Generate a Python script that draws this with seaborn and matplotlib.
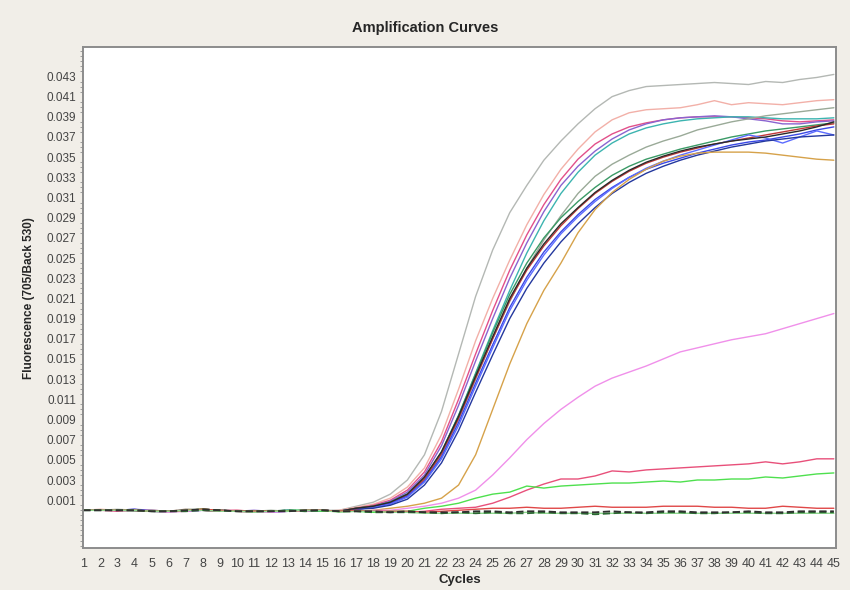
import pandas as pd
import matplotlib
matplotlib.use("Agg")
import matplotlib.pyplot as plt
from matplotlib.ticker import MultipleLocator, FormatStrFormatter
import numpy as np
import seaborn as sns

# Cycles 1..45
cycles = list(range(1, 46))

# Fluorescence values, in units of 1e-4
gray = [0, 0, 1, 0, -1, -2, 0, 1, 0, -1, -1, -1, 0, -1, 0, 0,
        4, 8, 16, 30, 55, 98, 155, 212, 258, 295, 322, 347, 366, 383,
        398, 410, 416, 420, 421, 422, 423, 424, 423, 422, 425, 424, 427, 429, 432]
salmon = [0, 1, 0, 0, -1, -1, 1, 0, -1, 0, -1, -2, -1, 0, -1, 0,
          3, 6, 12, 23, 42, 75, 120, 168, 210, 248, 283, 313, 338, 358,
          375, 387, 394, 397, 398, 399, 402, 406, 402, 404, 403, 402, 404, 406, 407]
hotpink = [0, 0, -1, 0, 0, -1, -1, 1, 0, 0, -1, -1, -1, -1, 0, -1,
           2, 5, 10, 20, 38, 68, 110, 155, 198, 238, 273, 303, 328, 348,
           363, 373, 380, 384, 387, 389, 390, 390, 390, 389, 388, 386, 385, 386, 387]
purple = [0, 0, 0, 1, 0, -1, -1, 0, 0, -1, 0, -1, -1, 0, 0, -1,
          2, 4, 9, 18, 35, 64, 104, 148, 190, 230, 265, 296, 322, 341,
          356, 368, 377, 383, 387, 389, 390, 391, 390, 388, 386, 383, 383, 385, 386]
teal = [0, 0, 0, 0, -1, -1, 0, 0, -1, -1, -1, -1, 0, 0, -1, -1,
        2, 4, 8, 16, 31, 57, 94, 136, 178, 218, 255, 287, 314, 335,
        352, 364, 373, 379, 383, 386, 388, 389, 390, 390, 389, 388, 388, 388, 389]
graygreen = [0, 0, 0, -1, 0, -1, 1, 1, 0, -1, -1, 0, -1, 0, 0, -1,
             2, 4, 8, 16, 30, 54, 90, 130, 170, 207, 240, 268, 292, 314,
             331, 343, 352, 360, 366, 371, 377, 381, 385, 388, 391, 393, 395, 397, 399]
green = [0, 0, 0, 0, -1, -2, 0, 1, -1, -1, -1, -1, -1, 0, 0, -1,
         2, 4, 8, 16, 32, 58, 94, 135, 176, 214, 245, 270, 290, 306,
         320, 332, 341, 348, 353, 358, 362, 366, 370, 373, 376, 378, 380, 382, 384]
black = [0, 0, 0, 0, -1, -1, -1, 1, 0, -1, -1, -1, -1, -1, 0, -1,
         2, 4, 8, 16, 33, 58, 93, 133, 172, 210, 240, 264, 284, 300,
         315, 327, 337, 345, 351, 356, 360, 363, 366, 368, 370, 373, 376, 380, 385]
red = [0, 0, 0, 0, -1, -1, 0, 0, -1, -1, -2, -1, -1, -1, 0, -1,
       2, 4, 7, 15, 31, 56, 91, 131, 170, 208, 238, 262, 282, 299,
       314, 326, 336, 344, 350, 355, 359, 363, 366, 369, 372, 375, 378, 381, 383]
blue = [0, 0, 0, 1, -1, -1, 0, 0, 0, -1, -1, -1, 0, -1, -1, -1,
        1, 3, 7, 14, 29, 53, 87, 126, 164, 201, 231, 256, 276, 293,
        308, 320, 330, 338, 344, 349, 354, 358, 362, 365, 367, 370, 373, 377, 380]
blue2 = [0, 0, 0, 0, -1, -1, -1, 0, 0, -1, -1, -2, -1, 0, -1, -1,
         1, 3, 6, 13, 28, 51, 84, 123, 161, 198, 228, 253, 274, 291,
         306, 319, 330, 339, 346, 352, 357, 362, 367, 372, 369, 364, 370, 376, 372]
blue3 = [0, 0, 0, 0, -1, -1, 0, 0, -1, -1, -1, -1, -1, -1, 0, -1,
         1, 2, 5, 11, 25, 47, 79, 117, 154, 190, 220, 245, 266, 284,
         300, 314, 325, 334, 341, 347, 352, 356, 360, 363, 366, 368, 370, 371, 372]
orange = [0, 0, 0, 0, -1, -1, 0, 1, 0, -1, -1, -1, -1, 0, 0, -1, -1, 0,
          2, 4, 7, 12, 25, 55, 100, 145, 185, 218,
          245, 275, 298, 315, 328, 338, 346, 351, 354, 355,
          355, 355, 354, 352, 350, 348, 347]
magenta = [0, 0, 0, 0, -1, -2, -1, 0, 0, -1, -2, -2, -1, -1, 0, -1, -1, 0, 0,
           2, 4, 7, 12, 20, 35, 52, 70, 86, 100,
           112, 123, 131, 137, 143, 150, 157, 161, 165, 169,
           172, 175, 180, 185, 190, 195]
redlow = [0, 0, 0, 0, -1, -1, 0, 0, -1, -1, -1, -1, -1, 0, 0, -1, -1, -1, -2, -2, -1,
          1, 2, 3, 7, 13, 20, 26, 31, 31, 34,
          39, 38, 40, 41, 42, 43, 44, 45, 46, 48,
          46, 48, 51, 51]
greenlow = [0, 0, 0, 0, -1, -1, 0, 1, 0, -1, -1, -1, 0, 0, -1, -1, -1, -2, -1, -1,
            2, 4, 7, 12, 16, 18, 24, 22, 24, 25,
            26, 27, 27, 28, 29, 28, 30, 30, 31, 31,
            33, 32, 34, 36, 37]
redflat = [0, 0, 0, 0, -1, -1, 0, 1, 0, -1, -1, -1, -1, 0, 0, -1,
           0, -1, -1, -1, -2, -1, 0, 1, 2, 2, 3, 2, 2, 3,
           4, 3, 3, 3, 4, 4, 4, 3, 3, 2, 2, 4, 3, 2, 2]
lightgreenflat = [0, 0, 0, 0, -1, -1, 0, 0, -1, -1, -2, -1, -1, 0, 0, -2,
                  -1, -1, -2, -2, -3, -3, -3, -3, -3, -3, -2, -3, -3, -3,
                  -3, -3, -3, -3, -3, -3, -3, -3, -3, -3, -3, -3, -3, -3, -3]
darkgreen = [0, 0, 0, 0, -1, -1, -1, 0, 0, -1, -1, -1, 0, -1, 0, -1,
             -1, -2, -2, -2, -2, -3, -2, -3, -2, -3, -3, -2, -3, -3,
             -4, -3, -2, -3, -2, -2, -3, -3, -2, -2, -3, -3, -2, -2, -2]
blackflat = [0, 0, 0, 0, -1, -1, 0, 1, 0, -1, -1, -1, -1, 0, 0, -1,
             -1, -1, -2, -1, -2, -2, -2, -1, -1, -2, -1, -1, -2, -2,
             -2, -1, -2, -2, -1, -1, -2, -2, -2, -1, -2, -2, -1, -1, -1]

solid = {
    "gray": (gray, "#b4b8b4"),
    "salmon": (salmon, "#f2b0a8"),
    "hotpink": (hotpink, "#e2508a"),
    "purple": (purple, "#8a64d0"),
    "teal": (teal, "#3cb4b0"),
    "graygreen": (graygreen, "#9aaa98"),
    "green": (green, "#3a9a66"),
    "red": (red, "#c03838"),
    "blue": (blue, "#3a48e6"),
    "blue2": (blue2, "#5c6cff"),
    "blue3": (blue3, "#24389e"),
    "black": (black, "#2a2a2a"),
    "orange": (orange, "#d6a24a"),
    "magenta": (magenta, "#f090ea"),
    "redlow": (redlow, "#e8507a"),
    "greenlow": (greenlow, "#4ee04e"),
    "redflat": (redflat, "#e04848"),
    "lightgreenflat": (lightgreenflat, "#8ed88e"),
}
dashed = {
    "darkgreen": (darkgreen, "#2c6a34"),
    "blackflat": (blackflat, "#303030"),
}


def to_long(curves):
    rows = []
    for name, (vals, _) in curves.items():
        for c, v in zip(cycles, vals):
            rows.append({"cycle": c, "value": v / 10000, "curve": name})
    return pd.DataFrame(rows)


df_solid = to_long(solid)
df_dashed = to_long(dashed)

sns.set_style("white")
plt.rcParams["font.family"] = ["Liberation Sans", "DejaVu Sans"]

fig = plt.figure(figsize=(8.5, 5.9), dpi=100, facecolor="#f1eee8")
ax = fig.add_axes([0.098, 0.071, 0.886, 0.849])
ax.set_facecolor("white")

sns.lineplot(data=df_solid, x="cycle", y="value", hue="curve",
             palette={k: v[1] for k, v in solid.items()},
             estimator=None, linewidth=1.0, legend=False, ax=ax)
sns.lineplot(data=df_dashed, x="cycle", y="value", hue="curve",
             palette={k: v[1] for k, v in dashed.items()},
             estimator=None, linewidth=1.3, linestyle=(0, (4, 2)),
             legend=False, ax=ax)

ax.set_xlim(1, 45.15)
ax.set_ylim(-0.00375, 0.0459)
ax.set_xticks(cycles)
ax.set_xticklabels([str(c) for c in cycles])
ax.set_yticks(np.arange(0.001, 0.0435, 0.002))
ax.yaxis.set_major_formatter(FormatStrFormatter("%.3f"))
ax.yaxis.set_minor_locator(MultipleLocator(0.0005))
ax.tick_params(axis="both", which="major", labelsize=8.5, labelcolor="#444444",
               length=3, width=0.8, color="#707070", direction="out", pad=2)
ax.tick_params(axis="y", which="minor", length=2, width=0.6, color="#909090",
               direction="out", left=True)
ax.tick_params(axis="x", which="major", labelsize=9, pad=4)

for s in ax.spines.values():
    s.set_color("#8c8c8c")
    s.set_linewidth(1.4)

ax.set_xlabel("Cycles", fontsize=9.5, fontweight="bold", labelpad=3)
ax.set_ylabel("Fluorescence (705/Back 530)", fontsize=8.5, fontweight="bold",
              labelpad=8)
fig.text(0.5, 0.952, "Amplification Curves", ha="center", va="center",
         fontsize=10.5, fontweight="bold")

fig.savefig("out.png", dpi=100, facecolor=fig.get_facecolor())
